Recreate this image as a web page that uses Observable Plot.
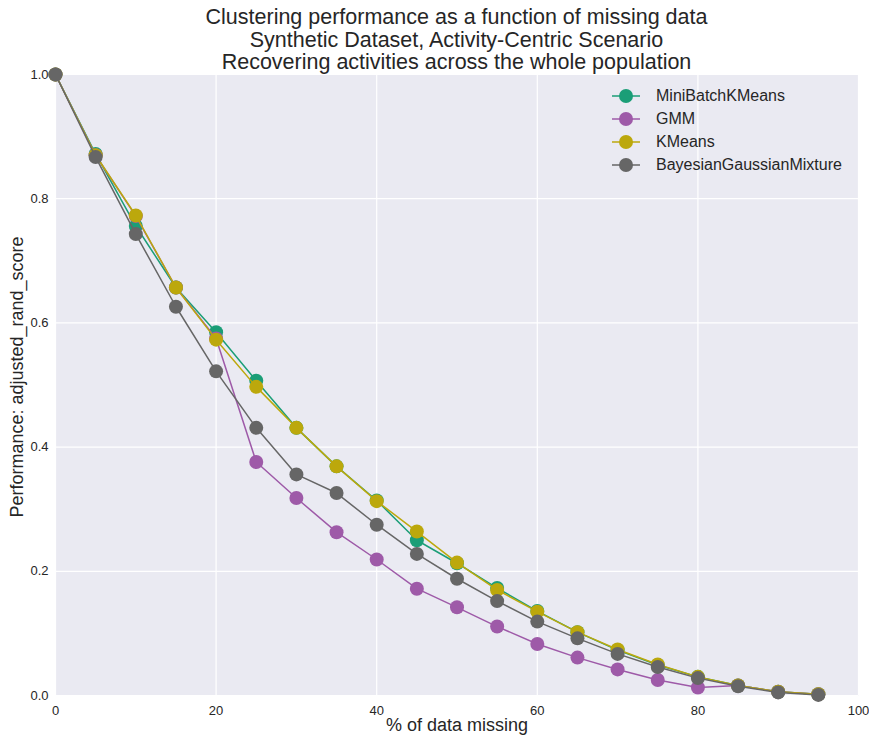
<!DOCTYPE html>
<html>
<head>
<meta charset="utf-8">
<script src="https://cdn.jsdelivr.net/npm/d3@7"></script>
<script src="https://cdn.jsdelivr.net/npm/@observablehq/plot@0.6"></script>
<style>
  html, body { margin: 0; padding: 0; background: #fff; }
  #wrap { position: relative; width: 869px; height: 737px; font-family: "Liberation Sans", Arial, sans-serif; color: #262626; }
  #title { box-sizing: border-box; height: 66px; padding: 6px 11px 0 55px; text-align: center; font-size: 21.5px; line-height: 22.5px; white-space: nowrap; }
  #legend { position: absolute; left: 608px; top: 84px; font-size: 16px; }
  #legend .row { display: flex; align-items: center; height: 23px; }
  #legend svg { margin-right: 12px; }
</style>
</head>
<body>
<div id="wrap">
  <div id="title">Clustering performance as a function of missing data<br>Synthetic Dataset, Activity-Centric Scenario<br>Recovering activities across the whole population</div>
  <div id="chart"></div>
  <div id="legend"></div>
</div>
<script>
const missing = [0,5,10,15,20,25,30,35,40,45,50,55,60,65,70,75,80,85,90,95];
const miniBatchKMeans = [1.0,0.872,0.756,0.657,0.585,0.507,0.431,0.369,0.314,0.250,0.213,0.173,0.136,0.102,0.073,0.049,0.030,0.016,0.006,0.002];
const gmm = [1.0,0.870,0.772,0.657,0.575,0.376,0.318,0.263,0.219,0.172,0.142,0.111,0.083,0.061,0.042,0.025,0.013,0.016,0.006,0.002];
const kMeans = [1.0,0.870,0.773,0.657,0.573,0.497,0.431,0.369,0.313,0.264,0.214,0.170,0.135,0.102,0.074,0.050,0.030,0.016,0.006,0.002];
const bayesianGM = [1.0,0.867,0.743,0.626,0.522,0.431,0.356,0.326,0.275,0.228,0.188,0.152,0.119,0.092,0.067,0.046,0.028,0.015,0.005,0.001];
const seriesNames = ["MiniBatchKMeans","GMM","KMeans","BayesianGaussianMixture"];
const seriesColors = ["#1b9e77","#9e5aa8","#bca80c","#666666"];
const xTicks = [0,20,40,60,80,100];
const yTicks = [0,0.2,0.4,0.6,0.8,1.0];

const seriesValues = [miniBatchKMeans, gmm, kMeans, bayesianGM];
const data = [];
seriesNames.forEach((name, i) => {
  missing.forEach((m, j) => data.push({series: name, order: i, x: m, y: seriesValues[i][j]}));
});

const lineMarks = [];
seriesNames.forEach((name, i) => {
  const d = data.filter(r => r.series === name);
  lineMarks.push(Plot.line(d, {x: "x", y: "y", stroke: seriesColors[i], strokeWidth: 1.5}));
  lineMarks.push(Plot.dot(d, {x: "x", y: "y", fill: seriesColors[i], r: 7, stroke: null}));
});

const chart = Plot.plot({
  width: 869,
  height: 671,
  marginTop: 8,
  marginBottom: 42,
  marginLeft: 55,
  marginRight: 11,
  style: {background: "transparent", fontFamily: "Liberation Sans, Arial, sans-serif", fontSize: "13px", color: "#262626", overflow: "visible"},
  x: {domain: [0, 100]},
  y: {domain: [0, 1]},
  marks: [
    Plot.frame({fill: "#EAEAF2", stroke: null}),
    Plot.gridX(xTicks, {stroke: "white", strokeOpacity: 1, strokeWidth: 1.2}),
    Plot.gridY(yTicks, {stroke: "white", strokeOpacity: 1, strokeWidth: 1.2}),
    Plot.axisX(xTicks, {tickSize: 0, tickPadding: 10, label: null, tickFormat: d => String(d)}),
    Plot.axisY(yTicks, {tickSize: 0, tickPadding: 7, label: null, tickFormat: d3.format(".1f")}),
    ...lineMarks,
    Plot.text(["% of data missing"], {frameAnchor: "bottom", dy: 35, fontSize: 18, fill: "#262626"}),
    Plot.text(["Performance: adjusted_rand_score"], {frameAnchor: "left", textAnchor: "middle", dx: -38, dy: -8, rotate: -90, fontSize: 18, fill: "#262626"})
  ]
});
document.getElementById("chart").appendChild(chart);

const legend = document.getElementById("legend");
seriesNames.forEach((name, i) => {
  const row = document.createElement("div");
  row.className = "row";
  row.innerHTML = `<svg width="36" height="20"><line x1="4" y1="10" x2="32" y2="10" stroke="${seriesColors[i]}" stroke-width="1.5"/><circle cx="18" cy="10" r="7" fill="${seriesColors[i]}"/></svg><span>${name}</span>`;
  legend.appendChild(row);
});
</script>
</body>
</html>
